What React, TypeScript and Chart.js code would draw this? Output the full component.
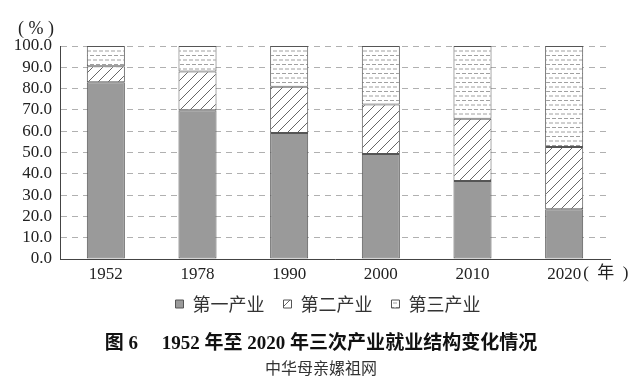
import React, { useEffect, useRef } from "react";
import { Chart, registerables } from "chart.js";

Chart.register(...registerables);

const categories = ["1952", "1978", "1990", "2000", "2010", "2020"];
const seriesNames = ["第一产业", "第二产业", "第三产业"];
const primary = [83.0, 69.8, 59.2, 49.3, 36.6, 23.3];
const secondary = [7.5, 18.2, 21.7, 23.2, 29.3, 29.3];
const tertiary = [9.5, 12.0, 19.1, 27.5, 34.1, 47.4];
const yTicks = [0, 10, 20, 30, 40, 50, 60, 70, 80, 90, 100];
const yUnit = "( % )";
const xUnit = "(\u2002年\u2002)";
const caption = "图 6\u3000 1952 年至 2020 年三次产业就业结构变化情况";
const watermark = "中华母亲嫘祖网";

const SERIF = "'Liberation Serif', 'Noto Sans CJK SC', serif";
const CJK = "'Noto Sans CJK SC', sans-serif";

function makeHatch(): CanvasPattern | string {
  const n = 10;
  const c = document.createElement("canvas");
  c.width = n;
  c.height = n;
  const g = c.getContext("2d");
  if (!g) return "#fff";
  g.fillStyle = "#ffffff";
  g.fillRect(0, 0, n, n);
  g.strokeStyle = "#555555";
  g.lineWidth = 0.9;
  g.beginPath();
  g.moveTo(-1, n + 1);
  g.lineTo(n + 1, -1);
  g.moveTo(-1, 1);
  g.lineTo(1, -1);
  g.moveTo(n - 1, n + 1);
  g.lineTo(n + 1, n - 1);
  g.stroke();
  return g.createPattern(c, "repeat") || "#fff";
}

function makeDots(): CanvasPattern | string {
  const c = document.createElement("canvas");
  c.width = 6;
  c.height = 9;
  const g = c.getContext("2d");
  if (!g) return "#fff";
  g.fillStyle = "#ffffff";
  g.fillRect(0, 0, 6, 9);
  g.strokeStyle = "#a0a0a0";
  g.lineWidth = 1;
  g.beginPath();
  g.moveTo(0, 1.5);
  g.lineTo(4, 1.5);
  g.moveTo(3, 6);
  g.lineTo(6, 6);
  g.moveTo(0, 6);
  g.lineTo(1, 6);
  g.stroke();
  return g.createPattern(c, "repeat") || "#fff";
}

const unitsPlugin = {
  id: "unitsText",
  afterLayout(chart: any) {
    const shift = (box: any, dx: number) => {
      if (box) {
        box.left += dx;
        box.right += dx;
      }
    };
    shift(chart.legend, 23);
    (chart.boxes || []).forEach((b: any) => {
      if (b && b.options && (b.options.text === caption || b.options.text === watermark)) {
        shift(b, 16);
      }
    });
  },
  afterDraw(chart: any) {
    const { ctx } = chart;
    const x = chart.scales.x;
    const y = chart.scales.y;
    ctx.save();
    ctx.fillStyle = "#222";
    ctx.textBaseline = "middle";
    ctx.font = "18px " + SERIF;
    ctx.textAlign = "center";
    ctx.fillText(yUnit, 36, y.top - 17);
    ctx.font = "17px " + SERIF;
    const lastPx = x.getPixelForValue(categories.length - 1);
    const w = ctx.measureText(categories[categories.length - 1]).width;
    ctx.textAlign = "left";
    ctx.fillText(xUnit, lastPx + w / 2 + 2, x.top + 15);
    ctx.restore();
  },
};

export default function App() {
  const ref = useRef<HTMLCanvasElement | null>(null);

  useEffect(() => {
    if (!ref.current) return;
    const hatch = makeHatch();
    const dots = makeDots();
    const chart = new Chart(ref.current, {
      type: "bar",
      data: {
        labels: categories,
        datasets: [
          {
            label: seriesNames[0],
            data: primary,
            backgroundColor: "#9a9a9a",
            borderColor: "#555",
            borderWidth: 1,
          },
          {
            label: seriesNames[1],
            data: secondary,
            backgroundColor: hatch as any,
            borderColor: "#555",
            borderWidth: 1,
          },
          {
            label: seriesNames[2],
            data: tertiary,
            backgroundColor: dots as any,
            borderColor: "#555",
            borderWidth: 1,
          },
        ],
      },
      options: {
        animation: false,
        responsive: false,
        devicePixelRatio: 1,
        layout: { padding: { left: 0, right: 30, top: 46, bottom: 0 } },
        datasets: {
          bar: { categoryPercentage: 1, barPercentage: 0.415, borderSkipped: false },
        },
        scales: {
          x: {
            stacked: true,
            grid: { display: false, drawTicks: false },
            border: { display: true, color: "#444", width: 1 },
            ticks: { font: { family: SERIF, size: 17 }, color: "#222", padding: 5 },
            afterFit: (s: any) => {
              s.height = 26;
            },
          },
          y: {
            stacked: true,
            min: 0,
            max: 100,
            afterBuildTicks: (s: any) => {
              s.ticks = yTicks.map((v) => ({ value: v }));
            },
            afterFit: (s: any) => {
              s.width = 60;
            },
            ticks: {
              autoSkip: false,
              font: { family: SERIF, size: 17 },
              color: "#222",
              padding: 8,
              callback: (v: any) => Number(v).toFixed(1),
            },
            grid: { color: "#b0b0b0", drawTicks: false, lineWidth: 1 },
            border: { display: true, color: "#444", width: 1, dash: [6, 5] },
          },
        },
        plugins: {
          legend: {
            position: "bottom",
            labels: {
              boxWidth: 8,
              boxHeight: 8,
              padding: 10,
              color: "#333",
              font: { family: CJK, size: 18 },
              generateLabels: (chart: any) => {
                const items = Chart.defaults.plugins.legend.labels.generateLabels(chart);
                return items.map((it: any, i: number) => ({
                  ...it,
                  text: i < items.length - 1 ? it.text + "\u2002" : it.text,
                }));
              },
            },
          },
          subtitle: {
            display: true,
            position: "bottom",
            text: caption,
            color: "#111",
            font: { family: SERIF, size: 19, weight: "bold" },
            padding: { top: 10, bottom: 3 },
          },
          title: {
            display: true,
            position: "bottom",
            text: watermark,
            color: "#333",
            font: { family: CJK, size: 16, weight: "normal" },
            padding: { top: 0, bottom: -2 },
          },
          tooltip: { enabled: false },
        },
      },
      plugins: [unitsPlugin],
    });
    return () => chart.destroy();
  }, []);

  return (
    <div style={{ position: "absolute", left: 0, top: 0, width: 640, height: 376, background: "#fff" }}>
      <canvas ref={ref} width={640} height={376} />
    </div>
  );
}
